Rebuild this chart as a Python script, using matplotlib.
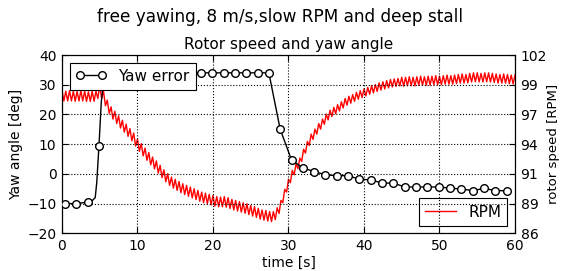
import numpy as np
import matplotlib
matplotlib.use("Agg")
import matplotlib.pyplot as plt
from matplotlib.ticker import LinearLocator, FormatStrFormatter, MultipleLocator

# ---- data ----
yaw_t = [0.4, 1.9, 3.4, 4.0, 4.4, 4.6, 4.9, 5.2, 5.4, 5.7, 6.4, 7.9, 9.4, 10.9, 12.4, 13.9,
         15.4, 16.9, 18.4, 19.9, 21.4, 22.9, 24.4, 25.9, 27.4, 28.9, 30.4, 31.9, 33.4,
         34.9, 36.4, 37.9, 39.4, 40.9, 42.4, 43.9, 45.4, 46.9, 48.4, 49.9, 51.4, 52.9,
         54.4, 55.9, 57.4, 58.9]
yaw_v = [-10.0, -10.0, -9.5, -9.0, -8.0, -3.0, 9.5, 24.0, 29.0, 33.0, 34.0, 34.0, 34.0, 34.0,
         34.0, 34.0, 34.0, 34.0, 34.0, 34.0, 34.0, 34.0, 34.0, 34.0, 34.0, 15.0, 4.7,
         2.0, 0.8, -0.3, -0.6, -0.6, -1.8, -2.0, -3.1, -3.1, -4.4, -4.4, -4.4, -4.4,
         -4.8, -5.1, -5.6, -4.9, -5.6, -5.7]
yaw_marker_idx = [0, 1, 2, 6] + list(range(10, 46))

rpm_t = np.arange(0, 60.001, 0.25)
rpm_v = [98.80, 97.88, 98.75, 97.88, 98.80, 97.88, 98.75, 97.85, 98.75, 97.88,
         98.80, 97.88, 98.75, 97.83, 98.70, 97.83, 98.75, 97.85, 98.75, 98.10,
         99.25, 98.10, 98.75, 97.45, 97.95, 96.75, 97.35, 96.25, 96.95, 95.85,
         96.55, 95.45, 96.15, 95.08, 95.80, 94.70, 95.40, 94.30, 95.00, 93.83,
         94.45, 93.35, 94.05, 92.95, 93.65, 92.55, 93.25, 92.15, 92.85, 91.78,
         92.50, 91.40, 92.10, 91.00, 91.70, 90.63, 91.35, 90.30, 91.05, 90.05,
         90.85, 89.85, 90.65, 89.65, 90.45, 89.48, 90.30, 89.33, 90.15, 89.18,
         90.00, 89.03, 89.85, 88.88, 89.70, 88.75, 89.60, 88.65, 89.50, 88.55,
         89.40, 88.45, 89.30, 88.38, 89.25, 88.38, 89.30, 88.35, 89.20, 88.23,
         89.05, 88.10, 88.95, 88.00, 88.85, 87.90, 88.75, 87.80, 88.65, 87.68,
         88.50, 87.55, 88.40, 87.43, 88.25, 87.28, 88.10, 87.18, 88.05, 87.10,
         87.95, 87.05, 87.95, 87.23, 88.30, 87.78, 88.95, 88.75, 89.95, 89.70,
         90.85, 90.55, 91.65, 91.25, 92.25, 91.80, 92.75, 92.45, 93.55, 93.20,
         94.25, 93.88, 94.90, 94.43, 95.35, 94.90, 95.85, 95.35, 96.25, 95.78,
         96.70, 96.18, 97.05, 96.48, 97.30, 96.73, 97.55, 96.98, 97.80, 97.25,
         98.10, 97.50, 98.30, 97.68, 98.45, 97.85, 98.65, 98.03, 98.80, 98.18,
         98.95, 98.33, 99.10, 98.48, 99.25, 98.60, 99.35, 98.73, 99.50, 98.85,
         99.60, 98.95, 99.70, 99.05, 99.80, 99.13, 99.85, 99.18, 99.90, 99.23,
         100.00, 99.20, 100.00, 99.23, 100.05, 99.23, 100.00, 99.23, 100.05, 99.28,
         100.10, 99.28, 100.05, 99.28, 100.10, 99.30, 100.10, 99.33, 100.15, 99.33,
         100.10, 99.33, 100.15, 99.38, 100.20, 99.38, 100.15, 99.38, 100.20, 99.43,
         100.25, 99.48, 100.30, 99.48, 100.25, 99.50, 100.35, 99.58, 100.40, 99.60,
         100.40, 99.58, 100.35, 99.58, 100.40, 99.60, 100.40, 99.58, 100.35, 99.53,
         100.30, 99.48, 100.25, 99.48, 100.30, 99.48, 100.25, 99.43, 100.20, 99.40,
         100.20]

suptitle = "free yawing, 8 m/s,slow RPM and deep stall"
title = "Rotor speed and yaw angle"

# ---- figure ----
plt.rcParams['font.family'] = ['DejaVu Sans']
fig = plt.figure(figsize=(5.61, 2.71), dpi=100, facecolor='white')
ax = fig.add_axes([0.1105, 0.139, 0.8075, 0.658])
ax2 = ax.twinx()

ax.plot(yaw_t, yaw_v, color='black', lw=1.0, marker='o', markersize=5.5,
        markerfacecolor='white', markeredgecolor='black', markeredgewidth=1.0,
        markevery=yaw_marker_idx, label='Yaw error', zorder=3)
ax2.plot(rpm_t, rpm_v, color='red', lw=1.0, label='RPM')

ax.set_zorder(ax2.get_zorder() + 1)
ax.patch.set_visible(False)

ax.set_xlim(0, 60)
ax.set_ylim(-20, 40)
ax.xaxis.set_major_locator(MultipleLocator(10))
ax.yaxis.set_major_locator(MultipleLocator(10))
ax2.set_ylim(86, 102)
ax2.yaxis.set_major_locator(LinearLocator(7))
ax2.yaxis.set_major_formatter(FormatStrFormatter('%.0f'))

ax.grid(True, color='black', linestyle=':', linewidth=0.8)

for a in (ax, ax2):
    a.tick_params(direction='in', length=4, width=0.8, labelsize=10, pad=4)
ax.tick_params(top=True, right=False)
ax2.tick_params(left=False, right=True)

ax.set_xlabel('time [s]', fontsize=10, labelpad=2)
ax.set_ylabel('Yaw angle [deg]', fontsize=10, labelpad=3)
ax2.set_ylabel('rotor speed [RPM]', fontsize=9.5, labelpad=0)
ax.set_title(title, fontsize=11, pad=4)
fig.suptitle(suptitle, fontsize=12.2, y=0.972)

l1 = ax.legend(loc='upper left', fontsize=11, numpoints=2, fancybox=False,
               framealpha=1, edgecolor='black', borderpad=0.4, handlelength=2)
l1.get_frame().set_linewidth(0.8)
l2 = ax2.legend(loc='lower right', fontsize=11, fancybox=False,
                framealpha=1, edgecolor='black', borderpad=0.4, handlelength=2)
l2.get_frame().set_linewidth(0.8)

fig.savefig('out.png', dpi=100, facecolor='white')
